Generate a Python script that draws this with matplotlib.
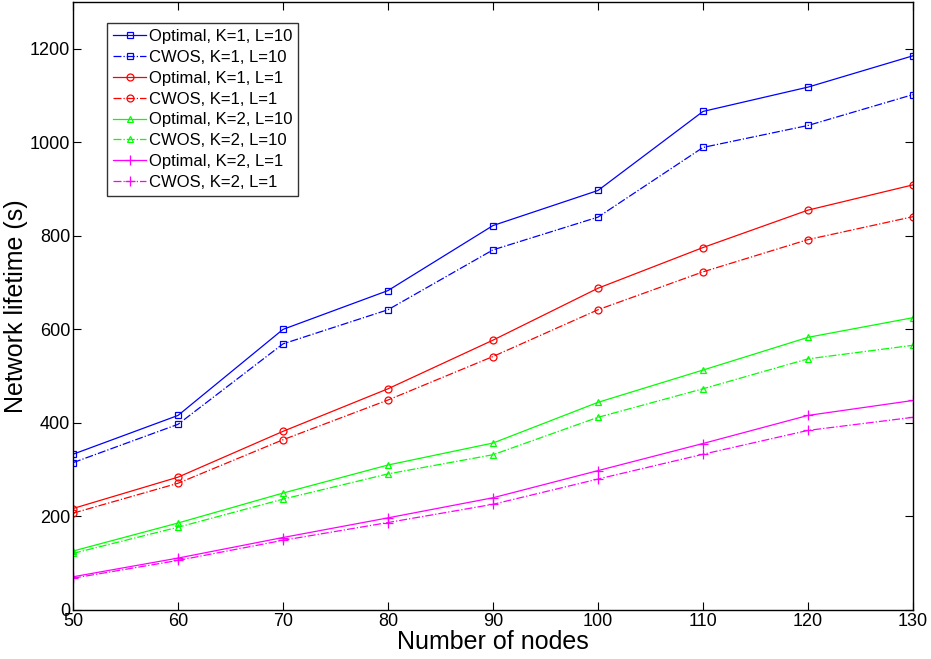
import matplotlib
matplotlib.use("Agg")
import matplotlib.pyplot as plt

plt.rcParams['font.family'] = ['Liberation Sans', 'DejaVu Sans']

nodes = [50, 60, 70, 80, 90, 100, 110, 120, 130]

opt_k1_l10 = [333, 416, 600, 683, 822, 897, 1066, 1118, 1185]
cwos_k1_l10 = [315, 397, 569, 642, 770, 840, 989, 1036, 1102]
opt_k1_l1 = [217, 284, 382, 473, 577, 688, 775, 855, 909]
cwos_k1_l1 = [207, 271, 364, 449, 542, 642, 723, 792, 841]
opt_k2_l10 = [126, 186, 250, 310, 357, 444, 513, 583, 625]
cwos_k2_l10 = [121, 177, 237, 291, 332, 412, 473, 537, 566]
opt_k2_l1 = [71, 111, 155, 197, 240, 298, 356, 416, 448]
cwos_k2_l1 = [68, 106, 149, 187, 226, 280, 333, 384, 412]

series = [
  ("Optimal, K=1, L=10", opt_k1_l10, '#0000ff', 's', '-'),
  ("CWOS, K=1, L=10", cwos_k1_l10, '#0000ff', 's', '-.'),
  ("Optimal, K=1, L=1", opt_k1_l1, '#ff0000', 'o', '-'),
  ("CWOS, K=1, L=1", cwos_k1_l1, '#ff0000', 'o', '-.'),
  ("Optimal, K=2, L=10", opt_k2_l10, '#00ff00', '^', '-'),
  ("CWOS, K=2, L=10", cwos_k2_l10, '#00ff00', '^', '-.'),
  ("Optimal, K=2, L=1", opt_k2_l1, '#ff00ff', '+', '-'),
  ("CWOS, K=2, L=1", cwos_k2_l1, '#ff00ff', '+', '-.'),
]

fig = plt.figure(figsize=(9.31, 6.59), dpi=100)
ax = fig.add_axes([73/931, 1-610/659, 840/931, 608/659])

for label, vals, c, m, ls in series:
  ms = 7 if m == '+' else 5
  ax.plot(nodes, vals, color=c, marker=m, linestyle=ls, linewidth=0.9,
          markersize=ms, markerfacecolor='none', markeredgecolor=c,
          markeredgewidth=0.9, label=label)

ax.set_xlim(50, 130)
ax.set_ylim(0, 1300)
ax.set_xticks(nodes)
ax.set_yticks(range(0, 1201, 200))
ax.tick_params(direction='in', top=True, right=True, labelsize=13, length=6, pad=2)
for s in ax.spines.values():
  s.set_linewidth(1.0)
ax.set_xlabel('Number of nodes', fontsize=18, labelpad=0)
ax.set_ylabel('Network lifetime (s)', fontsize=18, labelpad=1)

leg = ax.legend(loc='upper left', bbox_to_anchor=(0.041, 0.965), fontsize=12,
                frameon=True, fancybox=False, edgecolor='black',
                handlelength=1.95, labelspacing=0.35, borderpad=0.35,
                handletextpad=0.2, borderaxespad=0)
leg.get_frame().set_linewidth(1.0)

fig.savefig('out.png', dpi=100)
